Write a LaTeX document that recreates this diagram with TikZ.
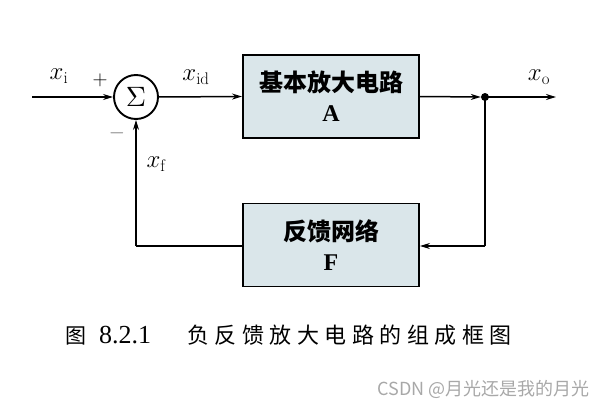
\documentclass[tikz,border=0pt]{standalone}
\usepackage{fontspec}
\usetikzlibrary{arrows.meta}
\newfontfamily\cjk{Noto Sans CJK SC}
\newfontfamily\tms{Liberation Serif}
\definecolor{boxfill}{HTML}{DAE6EA}
\definecolor{wm}{HTML}{A8A8A8}
\newcommand{\capgap}{\hspace{5.5pt}}
\begin{document}
\begin{tikzpicture}[x=1pt,y=-1pt,
  conn/.style={line width=1.5pt,-{Stealth[length=10pt,width=6pt]}},
  line/.style={line width=1.5pt},
  blk/.style={draw,line width=1.9pt,fill=boxfill,minimum width=176pt,minimum height=83pt,align=center,inner sep=0pt,font=\cjk\bfseries\fontsize{24}{30}\selectfont},
  lbl/.style={font=\fontsize{24}{28}\selectfont,inner sep=0pt}]
\useasboundingbox (0,0) rectangle (605,412);
\node[draw,circle,line width=1.9pt,minimum size=44pt,inner sep=0pt] (sum) at (136,97) {\scalebox{2.8}{$\Sigma$}};
\node[blk] (A) at (331,96.5) {基本放大电路\\{\tms\bfseries A}};
\node[blk] (F) at (331,245) {反馈网络\\{\tms\bfseries F}};
\coordinate (in) at (32,97);
\coordinate (out) at (556,97);
\node[circle,fill,inner sep=0pt,minimum size=8pt] (dot) at (485,97) {};
\coordinate (fr) at (485,246);
\coordinate (fl) at (136,246);
\draw[conn] (in) -- (sum.west);
\draw[conn] (sum.east) -- (A.west);
\draw[conn] (A.east) -- (dot.west);
\draw[conn] (dot.center) -- (out);
\draw[line] (dot.center) -- (fr);
\draw[conn] (fr) -- (F.east |- fr);
\draw[line] (F.west |- fl) -- (fl);
\draw[conn] (fl) -- (sum.south);
\node[lbl] (xi) at (59,76) {$x_{\mathrm{i}}$};
\node[lbl,font=\fontsize{22}{24}\selectfont] (plus) at (100,80) {$+$};
\node[lbl,font=\fontsize{22}{24}\selectfont,text=black!55] (minus) at (117,133) {$-$};
\node[lbl] (xf) at (156,164) {$x_{\mathrm{f}}$};
\node[lbl] (xid) at (196,77) {$x_{\mathrm{id}}$};
\node[lbl] (xo) at (539,77) {$x_{\mathrm{o}}$};
\node[inner sep=0pt,anchor=base west,font=\cjk\fontsize{21}{24}\selectfont] (capa) at (65,343) {图};
\node[inner sep=0pt,anchor=base west,font=\tms\fontsize{26}{28}\selectfont] (capb) at (99,343) {8.2.1};
\node[inner sep=0pt,anchor=base west,font=\cjk\fontsize{22}{24}\selectfont] (capc) at (187,343) {负\capgap 反\capgap 馈\capgap 放\capgap 大\capgap 电\capgap 路\capgap 的\capgap 组\capgap 成\capgap 框\capgap 图};
\node[inner sep=0pt,anchor=base east,text=wm,font=\cjk\fontsize{18}{20}\selectfont] (wmk) at (590,395) {CSDN @月光还是我的月光};
\end{tikzpicture}
\end{document}
